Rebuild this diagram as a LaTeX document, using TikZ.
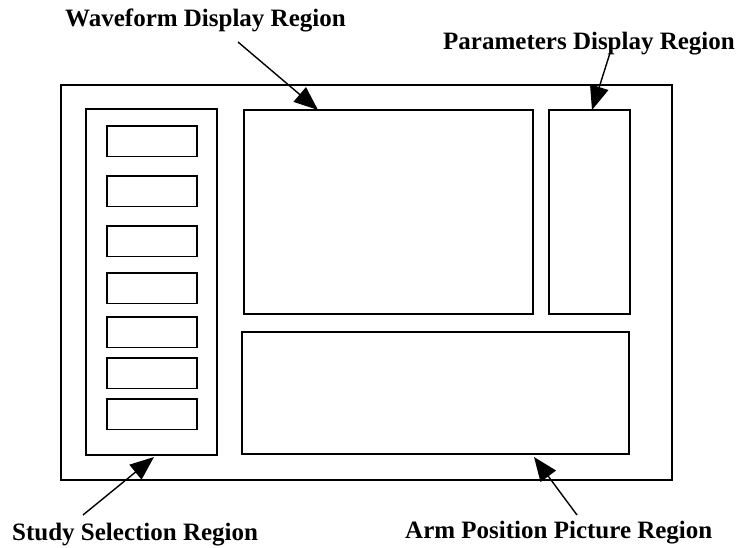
\documentclass[tikz,border=0pt]{standalone}
\usepackage{fontspec}
\setmainfont{Liberation Serif}
\usetikzlibrary{arrows.meta}

\begin{document}
\begin{tikzpicture}[x=1bp,y=-1bp,>={Triangle[length=24bp,width=19bp]},
  region/.style={draw,line width=1.2bp,inner sep=0pt,outer sep=0pt,anchor=north west},
  caption/.style={font=\bfseries\fontsize{25bp}{30bp}\selectfont,inner sep=0pt,anchor=base west},
  pointer/.style={->,line width=1.4bp}]
\useasboundingbox (0,0) rectangle (739,548);

% define the regions of the screen
  \node[region,minimum width=611bp,minimum height=395bp] (screen) at (61,85) {};
  \node[region,minimum width=131bp,minimum height=346bp] (ssr) at (86,109) {};
  \node[region,minimum width=289bp,minimum height=204bp] (wfd) at (244,110) {};
  \node[region,minimum width=81bp,minimum height=204bp]  (pdr) at (549,110) {};
  \node[region,minimum width=387bp,minimum height=122bp] (apr) at (242,332) {};

% define the study buttons
  \foreach \top [count=\i] in {126,176,226,273,317,358,399}
    \node[region,minimum width=90bp,minimum height=30.5bp] (btn\i) at (107,\top) {};

% define the labels
  \node[caption] (wlab) at (65,27)  {Waveform Display Region};
  \node[caption] (plab) at (443,50) {Parameters Display Region};
  \node[caption] (slab) at (12,540) {Study Selection Region};
  \node[caption] (alab) at (405,538) {Arm Position Picture Region};

% define the links
  \coordinate (wtail) at (238,42);
  \coordinate (ptail) at (610,53);
  \coordinate (stail) at (83,515);
  \coordinate (atail) at (577,515);
  \draw[pointer] (wtail) -- ([xshift=74bp]wfd.north west);
  \draw[pointer] (ptail) -- ([xshift=43bp]pdr.north west);
  \draw[pointer] (stail) -- ([xshift=68bp,yshift=-2bp]ssr.south west);
  \draw[pointer] (atail) -- ([xshift=292bp,yshift=-3bp]apr.south west);

\end{tikzpicture}
\end{document}
